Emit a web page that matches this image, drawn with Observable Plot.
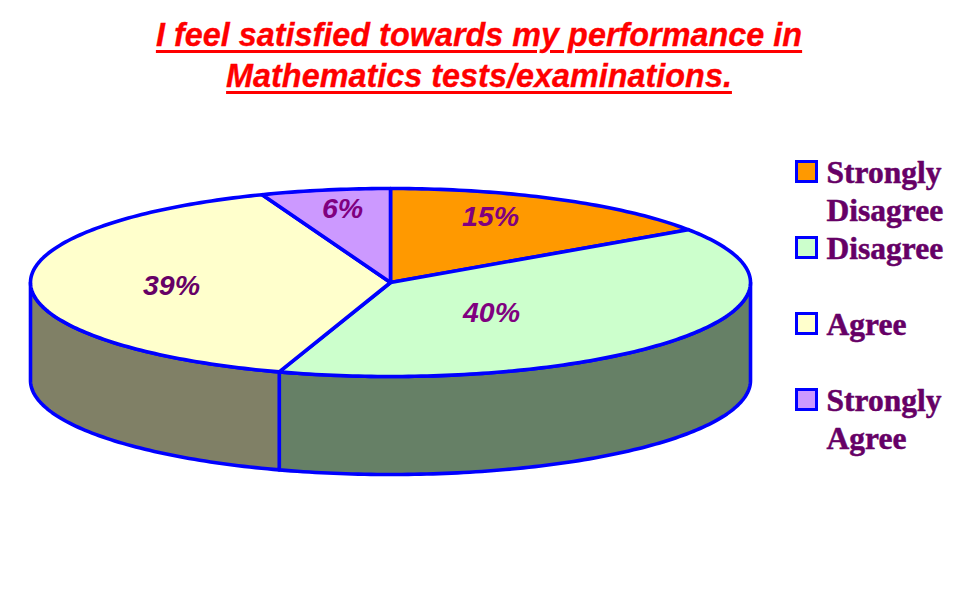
<!DOCTYPE html>
<html>
<head>
<meta charset="utf-8">
<script src="https://cdn.jsdelivr.net/npm/d3@7"></script>
<script src="https://cdn.jsdelivr.net/npm/@observablehq/plot@0.6"></script>
<style>
  html, body { margin: 0; padding: 0; background: #fff; }
  #title {
    width: 958px; height: 100px; padding-top: 15px; box-sizing: border-box;
    text-align: center; color: #ff0000;
    font: italic bold 32.4px/41px "Liberation Sans", Arial, sans-serif;
    text-decoration: underline; text-decoration-thickness: 3px; text-underline-offset: 4px;
    -webkit-text-stroke: 0.3px #ff0000;
  }
  #chart svg { display: block; }
</style>
</head>
<body>
<div id="title">I feel satisfied towards my performance in<br>Mathematics tests/examinations.</div>
<div id="chart"></div>
<script>
// Data
const categories = ["Strongly Disagree", "Disagree", "Agree", "Strongly Agree"];
const shares = [15.5, 39.5, 39.2, 5.8];
const shareLabels = ["15%", "40%", "39%", "6%"];
const legendLines = [["Strongly", "Disagree"], ["Disagree"], ["Agree"], ["Strongly", "Agree"]];

// Styles
const topColors = ["#ff9900", "#ccffcc", "#ffffcc", "#cc99ff"];
const wallColors = ["#806633", "#668066", "#808066", "#664d80"];
const labelColors = ["#800080", "#800080", "#660066", "#800080"];
const ink = "#660066";
const edge = "#0000ff";

// Layout (in page pixels)
const cx = 390, cy = 282, rx = 360, ry = 94, depth = 98;
const labelSpots = [[490, 216], [491, 312], [171, 285], [342, 208]];
const legendX = 796.5, legendSize = 20, legendTop = 161.5, legendStep = 76, lineStep = 38, legendTextX = 826;

// Angles are turns clockwise from the top of the ellipse
const total = d3.sum(shares);
let run = 0;
const slices = shares.map((v, i) => {
  const start = run / total; run += v;
  return {i, start, end: run / total};
});
const rim = (t, drop = 0) => ({
  x: cx + rx * Math.sin(2 * Math.PI * t),
  y: cy - ry * Math.cos(2 * Math.PI * t) + drop
});
const arc = (a, b, drop = 0) => {
  const n = Math.max(2, Math.ceil((b - a) * 360));
  return d3.range(n + 1).map(k => rim(a + (b - a) * k / n, drop));
};
const topShape = s => {
  const c = {x: cx, y: cy};
  return [c, ...arc(s.start, s.end), c];
};
const wallShape = s => {
  const a = Math.max(s.start, 0.25), b = Math.min(s.end, 0.75);
  if (b <= a) return null;
  const upper = arc(a, b), lower = arc(a, b, depth).reverse();
  return [...upper, ...lower, upper[0]];
};
const poly = (pts, fill) => Plot.line(pts, {
  x: "x", y: "y", fill, stroke: edge, strokeWidth: 3.6, strokeLinejoin: "round", curve: "linear"
});

const marks = [];
slices.forEach(s => { const w = wallShape(s); if (w) marks.push(poly(w, wallColors[s.i])); });
slices.forEach(s => marks.push(poly(topShape(s), topColors[s.i])));

marks.push(Plot.text(shareLabels, {
  x: (d, i) => labelSpots[i][0], y: (d, i) => labelSpots[i][1],
  text: d => d, fill: (d, i) => labelColors[i],
  fontFamily: "Liberation Sans, Arial, sans-serif", fontSize: 28.5, fontWeight: "bold", fontStyle: "italic"
}));

const legendRows = categories.map((c, i) => ({c, i}));
marks.push(Plot.rect(legendRows, {
  x1: legendX, x2: legendX + legendSize,
  y1: d => legendTop + d.i * legendStep, y2: d => legendTop + d.i * legendStep + legendSize,
  fill: d => topColors[d.i], stroke: edge, strokeWidth: 3
}));
const legendText = legendRows.flatMap(d => legendLines[d.i].map((t, k) => ({t, i: d.i, k})));
marks.push(Plot.text(legendText, {
  x: legendTextX, y: d => legendTop + 20.5 + d.i * legendStep + d.k * lineStep,
  text: "t", textAnchor: "start", lineAnchor: "bottom", fill: ink, stroke: ink, strokeWidth: 0.5,
  fontFamily: "Liberation Serif, Times New Roman, serif", fontSize: 31.5, fontWeight: "bold"
}));

const plot = Plot.plot({
  width: 977, height: 500, margin: 0,
  x: {type: "linear", domain: [0, 977], range: [0, 977], axis: null},
  y: {type: "linear", domain: [100, 600], range: [0, 500], axis: null},
  color: {type: "identity"},
  style: {background: "#fff"},
  marks
});
document.getElementById("chart").appendChild(plot);
</script>
</body>
</html>
